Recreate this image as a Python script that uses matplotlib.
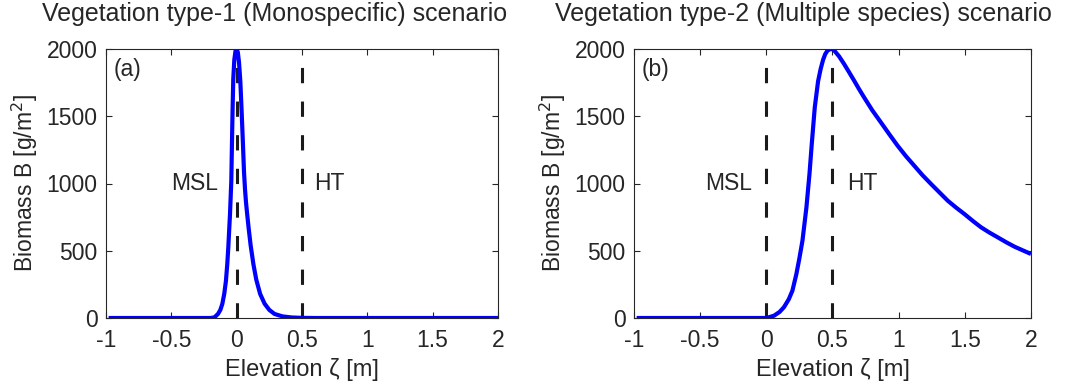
import matplotlib.pyplot as plt

plt.rcParams['font.family'] = ['Liberation Sans', 'DejaVu Sans']
plt.rcParams['text.color'] = '#262626'
plt.rcParams['axes.labelcolor'] = '#262626'
plt.rcParams['xtick.color'] = '#262626'
plt.rcParams['ytick.color'] = '#262626'

# biomass profile, vegetation type-1 (monospecific)
z_mono = [-0.98, -0.5, -0.2, -0.17, -0.143, -0.125, -0.11, -0.095, -0.082,
          -0.072, -0.064, -0.051, -0.041, -0.036, -0.031, -0.026, -0.018,
          -0.009, 0.0, 0.009, 0.018, 0.028, 0.037, 0.047, 0.056, 0.064,
          0.071, 0.079, 0.092, 0.107, 0.128, 0.15, 0.18, 0.214, 0.25, 0.29,
          0.35, 0.42, 0.5, 0.6, 1.0, 2.0]
b_mono = [0, 0, 0, 5, 30, 60, 104, 180, 277,
          400, 525, 773, 1021, 1300, 1560, 1777, 1920,
          1985, 2000, 1975, 1900, 1760, 1560, 1320, 1090, 955,
          865, 785, 665, 540, 400, 285, 178, 106, 60, 30,
          12, 4, 1, 0, 0, 0]

# biomass profile, vegetation type-2 (multiple species)
z_multi = [-0.98, -0.5, 0.0, 0.058, 0.1, 0.133, 0.17, 0.197, 0.227, 0.25,
           0.273, 0.303, 0.326, 0.343, 0.366, 0.391, 0.41, 0.429, 0.445,
           0.462, 0.48, 0.5, 0.512, 0.55, 0.588, 0.625, 0.664, 0.7, 0.739,
           0.8, 0.866, 0.93, 0.992, 1.055, 1.118, 1.18, 1.245, 1.31, 1.371,
           1.435, 1.497, 1.56, 1.623, 1.686, 1.75, 1.813, 1.876, 1.94, 2.0]
b_multi = [0, 0, 0, 17, 45, 80, 140, 203, 327, 445,
           575, 823, 1071, 1290, 1566, 1760, 1850, 1920, 1962,
           1988, 1998, 2000, 1990, 1945, 1888, 1828, 1764, 1703, 1640,
           1545, 1454, 1365, 1281, 1203, 1132, 1062, 996, 932, 872,
           820, 773, 722, 674, 635, 599, 563, 530, 502, 476]

msl = 0.0
ht = 0.5

xticks = [-1, -0.5, 0, 0.5, 1, 1.5, 2]
xticklabels = ['-1', '-0.5', '0', '0.5', '1', '1.5', '2']
yticks = [0, 500, 1000, 1500, 2000]

panels = [
    dict(z=z_mono, b=b_mono, tag='(a)',
         title='Vegetation type-1 (Monospecific) scenario',
         msl_x=-0.5, ht_x=0.59, title_x=0.431,
         rect=[106 / 1069, 71 / 389, 392 / 1069, 269 / 389]),
    dict(z=z_multi, b=b_multi, tag='(b)',
         title='Vegetation type-2 (Multiple species) scenario',
         msl_x=-0.46, ht_x=0.614, title_x=0.426,
         rect=[634 / 1069, 71 / 389, 397 / 1069, 269 / 389]),
]

fs = 16.5

fig = plt.figure(figsize=(10.69, 3.89), dpi=100)

for p in panels:
    ax = fig.add_axes(p['rect'])
    # reference levels: mean sea level and high tide
    for xv in (msl, ht):
        ax.plot([xv, xv], [0, 2000], color='#1a1a1a', lw=2.2,
                linestyle=(0, (5.0, 6.0)))
    ax.plot(p['z'], p['b'], color=(0, 0, 1), lw=3.0, solid_capstyle='butt')

    ax.set_xlim(-1, 2)
    ax.set_ylim(0, 2000)
    ax.set_xticks(xticks)
    ax.set_xticklabels(xticklabels)
    ax.set_yticks(yticks)
    ax.tick_params(direction='in', top=True, right=True, length=4,
                   width=0.8, labelsize=fs)
    ax.tick_params(axis='x', pad=8)
    ax.tick_params(axis='y', pad=6)
    for s in ax.spines.values():
        s.set_linewidth(0.8)
        s.set_color('#262626')

    ax.set_xlabel('Elevation ζ [m]', fontsize=fs + 0.5, labelpad=4)
    ax.set_ylabel('Biomass B [g/m$^2$]', fontsize=fs, labelpad=5)
    ax.text(p['title_x'], 1.085, p['title'], transform=ax.transAxes,
            ha='center', va='bottom', fontsize=18)
    ax.text(-0.945, 1846, p['tag'], ha='left', va='center', fontsize=fs)
    ax.text(p['msl_x'], 1000, 'MSL', ha='left', va='center', fontsize=fs)
    ax.text(p['ht_x'], 1000, 'HT', ha='left', va='center', fontsize=fs)

fig.savefig('out.png', dpi=100)
